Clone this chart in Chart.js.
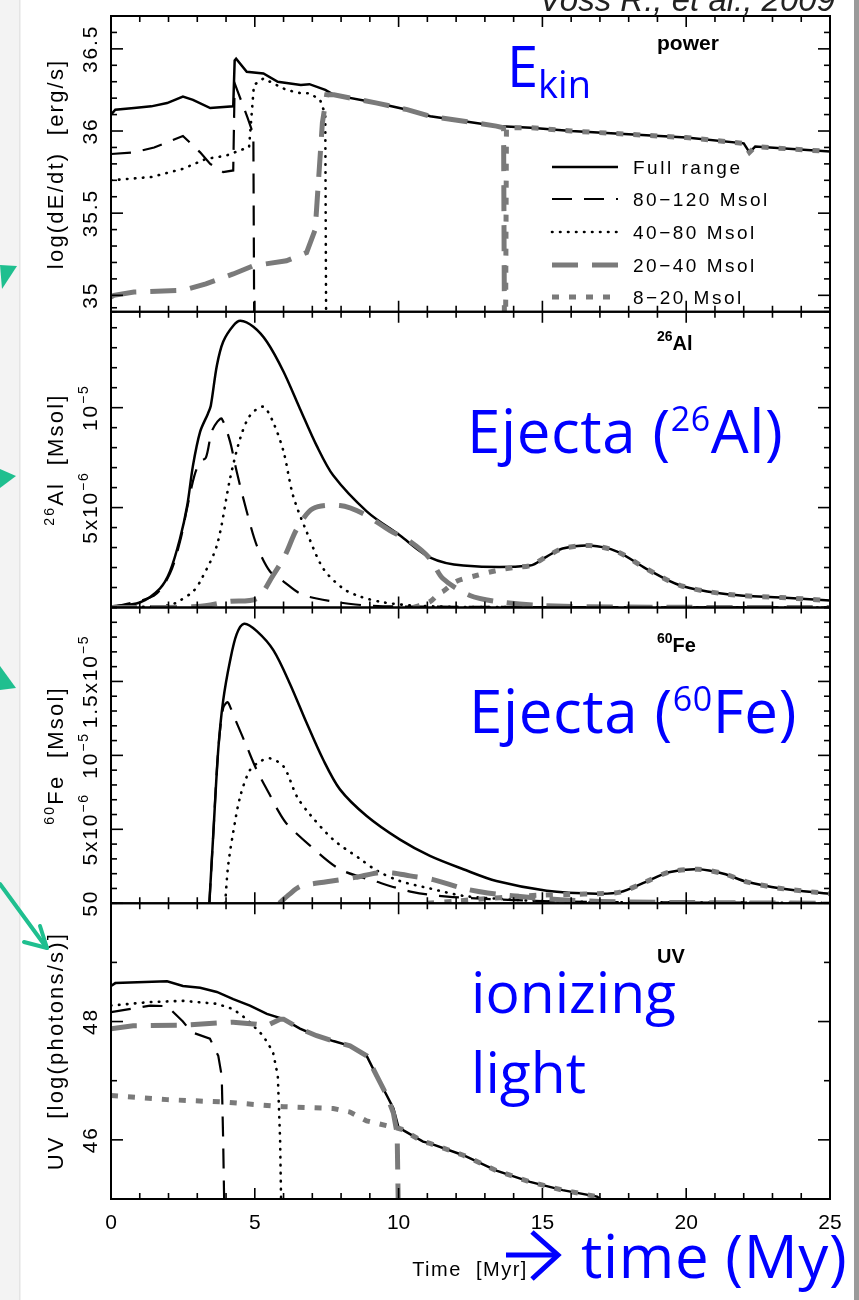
<!DOCTYPE html>
<html>
<head>
<meta charset="utf-8">
<title>Stellar group output vs time</title>
<script src="https://cdn.jsdelivr.net/npm/chart.js"></script>
<style>
  body { margin: 0; background: #fff; }
  canvas { display: block; }
</style>
</head>
<body>
<canvas id="myChart" width="859" height="1300"></canvas>
<script>
// x axis: Time [Myr]
const timeTicks = [0, 5, 10, 15, 20, 25];
const seriesNames = ['Full range', '80\u2212120 Msol', '40\u221280 Msol', '20\u221240 Msol', '8\u221220 Msol'];

// panel 1: power, log(dE/dt) [erg/s]   points are [time, value]
const powerFull = [[0,36.10],[0.15,36.13],[0.8,36.14],[1.4,36.15],[1.95,36.17],[2.5,36.21],[2.85,36.19],[3.45,36.14],[4.25,36.15],[4.3,36.43],[4.35,36.44],[4.72,36.36],[5.3,36.35],[5.8,36.30],[6.6,36.28],[6.9,36.285],[7.45,36.25],[7.75,36.22],[9.25,36.17],[10.3,36.13],[11.1,36.09],[13.4,36.03],[14.6,36.02],[16,36.0],[18.0,35.98],[20,35.96],[22.0,35.925],[22.2,35.87],[22.4,35.905],[25,35.875]];
const power80 = [[0,35.86],[0.8,35.87],[1.5,35.90],[2.5,35.97],[3.1,35.87],[3.45,35.80],[3.9,35.75],[4.25,35.76],[4.3,36.29],[4.45,36.22],[4.75,36.08],[4.95,35.98],[5.0,34.0]];
const power40 = [[0,35.70],[1.4,35.72],[2.5,35.77],[3.3,35.83],[4.0,35.85],[4.6,35.89],[4.8,35.90],[4.97,36.28],[5.3,36.32],[6.1,36.25],[6.6,36.23],[6.9,36.23],[7.27,36.19],[7.45,36.1],[7.5,34.0]];
const power20 = [[0,34.99],[0.1,35.0],[0.8,35.02],[2.5,35.03],[3.3,35.07],[4.25,35.13],[4.95,35.18],[6.1,35.21],[6.8,35.26],[7.1,35.40],[7.35,36.05],[7.5,36.22],[7.75,36.22],[9.25,36.17],[10.3,36.13],[11.1,36.09],[13.4,36.03],[13.65,36.02],[13.7,34.0]];
const power8 = [[13.7,34.0],[13.75,36.02],[14.6,36.02],[16,36.0],[18.0,35.98],[20,35.96],[22.0,35.925],[22.2,35.87],[22.4,35.905],[25,35.875]];

// panel 2: 26Al ejecta, in 1e-6 Msol
const alFull = [[0,0.05],[1.0,0.25],[1.7,0.95],[2.05,1.8],[2.4,3.45],[2.65,5.1],[2.85,7.1],[3.1,8.8],[3.37,9.7],[3.47,10.1],[3.68,12.1],[3.9,13.3],[4.25,14.1],[4.5,14.35],[4.95,14.05],[5.42,13.3],[6.0,11.8],[6.57,9.95],[7.15,8.1],[7.73,6.6],[8.9,4.8],[10.05,3.6],[11.1,2.5],[12.25,2.1],[14.57,2.1],[15.15,2.55],[15.7,2.95],[16.65,3.1],[17.6,2.8],[18.6,1.95],[19.8,1.1],[21.5,0.65],[23.3,0.5],[25,0.35]];
const al80 = [[0,0],[1.5,0.6],[2.05,1.7],[2.4,3.3],[2.65,5.0],[2.9,6.6],[3.1,7.3],[3.3,7.5],[3.5,8.8],[3.7,9.3],[3.85,9.45],[4.14,8.3],[4.37,6.8],[4.72,4.8],[5.07,3.1],[5.53,1.8],[6.0,1.3],[6.57,0.7],[7.15,0.45],[8.5,0.15],[10,0.05],[25,0]];
const al40 = [[0,0],[2.0,0.1],[2.4,0.35],[2.85,0.8],[3.1,1.3],[3.68,3.1],[4.14,6.45],[4.49,8.45],[4.83,9.6],[5.29,10.05],[5.63,9.3],[6.0,7.8],[6.33,5.6],[6.8,3.8],[7.38,1.95],[8.07,0.95],[8.66,0.55],[9.5,0.25],[10.5,0.1],[12,0.03],[25,0]];
const al20 = [[0,0],[3.0,0.05],[4.1,0.3],[5.07,0.45],[5.63,1.6],[6.05,2.6],[6.47,3.95],[7.02,4.95],[7.96,5.1],[8.76,4.7],[9.7,3.85],[10.4,3.3],[11.09,2.45],[11.54,1.45],[12.48,0.6],[13.42,0.3],[15,0.1],[18,0.02],[25,0]];
const al8 = [[10.5,0],[11.1,0.3],[11.4,0.7],[11.54,0.8],[12.0,1.3],[12.7,1.6],[13.4,1.85],[14.0,2.0],[14.57,2.1],[15.15,2.55],[15.7,2.95],[16.65,3.1],[17.6,2.8],[18.6,1.95],[19.8,1.1],[21.5,0.65],[23.3,0.5],[25,0.35]];

// panel 3: 60Fe ejecta, in 1e-6 Msol
const feFull = [[3.42,0],[3.56,4.8],[3.73,10.4],[3.9,13.7],[4.14,16.4],[4.37,18.2],[4.63,18.9],[5.07,18.4],[5.65,17.1],[6.22,14.85],[6.8,12.2],[7.38,9.7],[7.96,7.7],[8.89,5.9],[10.05,4.3],[11.09,3.2],[12.25,2.3],[13.4,1.5],[15.15,0.85],[16.9,0.65],[17.7,0.75],[18.6,1.45],[19.4,2.1],[20.4,2.3],[21.3,2.0],[22.1,1.45],[23.3,1.0],[25,0.64]];
const fe80 = [[3.42,0],[3.56,4.8],[3.73,10.4],[3.9,13.2],[4.05,13.6],[4.14,13.3],[4.37,12.2],[4.72,10.6],[5.07,9.0],[5.53,7.3],[5.77,6.4],[6.1,5.4],[6.92,3.9],[7.96,2.3],[9.25,1.45],[10.5,0.75],[11.7,0.45],[13,0.3],[15,0.15],[17,0.08],[25,0.02]];
const fe40 = [[3.97,0],[4.07,2.5],[4.25,4.8],[4.49,7.2],[4.83,9.0],[5.2,9.6],[5.53,9.8],[6.0,9.25],[6.47,7.2],[6.92,6.0],[7.73,4.3],[8.66,3.0],[9.25,2.2],[10.05,1.5],[11.09,1.0],[12.25,0.5],[13.5,0.3],[15,0.15],[17,0.08],[25,0.02]];
const fe20 = [[5.85,0],[6.2,0.6],[6.6,1.15],[7.5,1.45],[8.5,1.75],[9.25,2.05],[9.8,2.05],[10.4,1.85],[11.2,1.6],[12.25,1.0],[13.1,0.7],[14.5,0.4],[16,0.2],[18,0.08],[25,0]];
const fe8 = [[11,0],[12,0.15],[13,0.3],[14,0.45],[15,0.55],[16,0.6],[16.9,0.65],[17.7,0.75],[18.6,1.45],[19.4,2.1],[20.4,2.3],[21.3,2.0],[22.1,1.45],[23.3,1.0],[25,0.64]];

// panel 4: UV, log(photons/s)
const uvFull = [[0,48.6],[0.15,48.65],[1.95,48.68],[2.5,48.6],[3.1,48.57],[3.68,48.5],[4.25,48.38],[4.83,48.27],[5.42,48.13],[6.0,48.04],[6.57,47.88],[7.15,47.76],[7.73,47.67],[8.31,47.59],[8.89,47.42],[9.24,47.08],[9.59,46.75],[9.82,46.53],[9.99,46.22],[10.17,46.16],[10.85,45.97],[11.09,45.94],[12.25,45.74],[13.4,45.48],[14.57,45.29],[15.7,45.15],[16.9,45.04],[17.3,44.9]];
const uv80 = [[0,48.16],[1.36,48.27],[1.95,48.26],[2.5,48.0],[2.8,47.82],[3.44,47.71],[3.73,47.42],[3.85,47.08],[3.9,46.0],[3.95,44.5]];
const uv40 = [[0,48.27],[1.36,48.33],[2.5,48.35],[3.68,48.3],[4.25,48.21],[4.72,48.04],[5.29,47.76],[5.63,47.49],[5.8,47.08],[5.88,46.0],[5.93,44.5]];
const uv20 = [[0,47.88],[0.77,47.93],[2.5,47.94],[4.25,47.99],[4.95,47.96],[5.42,47.93],[5.88,48.04],[6.0,48.04],[6.57,47.88],[7.15,47.76],[7.73,47.67],[8.31,47.59],[8.89,47.42],[9.24,47.08],[9.59,46.75],[9.82,46.45],[9.95,46.1],[10.0,44.5]];
const uv8 = [[0,46.75],[1.95,46.68],[3.9,46.64],[6.0,46.56],[7.73,46.53],[8.31,46.47],[8.89,46.32],[9.59,46.24],[10.1,46.18],[10.17,46.16],[10.85,45.97],[11.09,45.94],[12.25,45.74],[13.4,45.48],[14.57,45.29],[15.7,45.15],[16.9,45.04],[17.3,44.9]];

// y tick values / labels
const powerTicks = [35, 35.5, 36, 36.5];
const powerLabels = ['35', '35.5', '36', '36.5'];
const alTicks = [5, 10];
const alLabels = ['5x10^{\u22126}', '10^{\u22125}'];
const feTicks = [5, 10, 15];
const feLabels = ['5x10^{\u22126}', '10^{\u22125}', '1.5x10^{\u22125}'];
const uvTicks = [46, 48, 50];
const uvLabels = ['46', '48', '50'];

const seriesStyles = [
  { color: '#000', width: 2.5, dash: [], cap: 'butt' },
  { color: '#000', width: 2.2, dash: [20, 12], cap: 'butt' },
  { color: '#000', width: 2.6, dash: [0.5, 7.5], cap: 'round' },
  { color: '#7a7a7a', width: 5, dash: [26, 14], cap: 'butt' },
  { color: '#7a7a7a', width: 5, dash: [7, 10], cap: 'butt' },
];

const panels = [
  { id: 'yPower', min: 34.9, max: 36.7, step: 0.1, ticks: powerTicks, labels: powerLabels, title: 'log(dE/dt)  [erg/s]', tag: 'power', tagY: 50, tagSize: 21 },
  { id: 'yAl', min: 0, max: 14.8, step: 1, ticks: alTicks, labels: alLabels, title: '^{26}Al  [Msol]', tag: '^{26}Al', tagY: 350, tagSize: 20 },
  { id: 'yFe', min: 0, max: 20, step: 1, ticks: feTicks, labels: feLabels, title: '^{60}Fe  [Msol]', tag: '^{60}Fe', tagY: 652, tagSize: 20 },
  { id: 'yUV', min: 45, max: 50, step: 1, ticks: uvTicks, labels: uvLabels, title: 'UV  [log(photons/s)]', tag: 'UV', tagY: 963, tagSize: 20 },
];

function makeSets(axisId, series, tension) {
  return series.map((pts, i) => ({
    label: seriesNames[i],
    xAxisID: 'x',
    yAxisID: axisId,
    data: pts.map(([x, y]) => ({ x, y })),
    borderColor: seriesStyles[i].color,
    borderWidth: seriesStyles[i].width,
    borderDash: seriesStyles[i].dash,
    borderCapStyle: seriesStyles[i].cap,
    pointRadius: 0,
    fill: false,
    tension: tension,
    order: 5 - i,
  }));
}

function parseRich(str) {
  const parts = [];
  const re = /\^\{([^}]*)\}|_\{([^}]*)\}|([^^_]+)/g;
  let m;
  while ((m = re.exec(str))) {
    if (m[1] !== undefined) parts.push({ t: m[1], k: 'sup' });
    else if (m[2] !== undefined) parts.push({ t: m[2], k: 'sub' });
    else parts.push({ t: m[3], k: 'n' });
  }
  return parts;
}

function drawRich(ctx, str, x, y, o) {
  const parts = parseRich(str);
  const fontFor = k => (o.weight || '') + ' ' + (k === 'n' ? o.size : Math.round(o.size * (o.small || 0.65))) + 'px ' + o.family;
  ctx.letterSpacing = (o.spacing || 0) + 'px';
  ctx.textAlign = 'left';
  let total = 0;
  const widths = parts.map(p => { ctx.font = fontFor(p.k); const w = ctx.measureText(p.t).width; total += w; return w; });
  let cx = o.align === 'center' ? x - total / 2 : o.align === 'right' ? x - total : x;
  parts.forEach((p, i) => {
    ctx.font = fontFor(p.k);
    const dy = p.k === 'sup' ? -(o.rise || 0.42) * o.size : p.k === 'sub' ? (o.drop || 0.2) * o.size : 0;
    ctx.fillText(p.t, cx, y + dy);
    cx += widths[i];
  });
  ctx.letterSpacing = '0px';
}

function drawRotated(ctx, str, x, y, o) {
  ctx.save();
  ctx.translate(x, y);
  ctx.rotate(-Math.PI / 2);
  drawRich(ctx, str, 0, 0, Object.assign({}, o, { align: 'center' }));
  ctx.restore();
}

function seg(ctx, x1, y1, x2, y2) {
  ctx.beginPath(); ctx.moveTo(x1, y1); ctx.lineTo(x2, y2); ctx.stroke();
}

const SANS = '"Liberation Sans", Arial, sans-serif';
const BLUE_FONT = '"Open Sans", sans-serif';

const backdrop = {
  id: 'backdrop',
  beforeDraw(chart) {
    const ctx = chart.ctx;
    ctx.save();
    ctx.fillStyle = '#fff';
    ctx.fillRect(0, 0, chart.width, chart.height);
    ctx.fillStyle = '#f3f3f3';
    ctx.fillRect(0, 0, 19, chart.height);
    ctx.fillStyle = '#e4e4e4';
    ctx.fillRect(19, 0, 1.5, chart.height);
    ctx.fillStyle = '#9a9a9a';
    ctx.fillRect(854, 0, 5, chart.height);
    ctx.restore();
  }
};

const frames = {
  id: 'frames',
  afterDraw(chart) {
    const ctx = chart.ctx;
    const xs = chart.scales.x;
    const L = xs.left, R = xs.right;
    ctx.save();
    ctx.fillStyle = '#000';
    ctx.strokeStyle = '#000';
    ctx.setLineDash([]);
    panels.forEach(p => {
      const s = chart.scales[p.id];
      const T = s.top, B = s.bottom;
      ctx.lineWidth = 1.6;
      for (let t = 0; t <= 25; t++) {
        const px = xs.getPixelForValue(t);
        const len = t % 5 === 0 ? 11 : 6;
        seg(ctx, px, B, px, B - len);
        seg(ctx, px, T, px, T + len);
      }
      const n = Math.round((p.max - p.min) / p.step);
      for (let i = 0; i <= n; i++) {
        const v = p.min + i * p.step;
        const py = s.getPixelForValue(v);
        const major = p.ticks.some(tv => Math.abs(tv - v) < 1e-6);
        const len = major ? 12 : 6;
        seg(ctx, L, py, L + len, py);
        seg(ctx, R, py, R - len, py);
      }
      ctx.lineWidth = 2;
      ctx.strokeRect(L, T, R - L, B - T);
      // tick labels, rotated
      p.ticks.forEach((tv, i) => {
        drawRotated(ctx, p.labels[i], 97, s.getPixelForValue(tv), { size: 21, family: SANS, spacing: 1.8 });
      });
      // axis title
      drawRotated(ctx, p.title, 63, (T + B) / 2, { size: 22, family: SANS, spacing: 2.2 });
      // panel tag
      drawRich(ctx, p.tag, 657, p.tagY, { size: p.tagSize, family: SANS, weight: 'bold', small: 0.72, rise: 0.45 });
    });
    // time labels
    const B = chart.scales.yUV.bottom;
    timeTicks.forEach(t => {
      drawRich(ctx, String(t), xs.getPixelForValue(t), B + 30, { size: 21, family: SANS, align: 'center' });
    });
    drawRich(ctx, 'Time  [Myr]', 470, B + 77, { size: 20, family: SANS, align: 'center', spacing: 1.5 });
    ctx.restore();
  }
};

const legendBox = {
  id: 'legendBox',
  afterDraw(chart) {
    const ctx = chart.ctx;
    const rows = [167, 199, 232, 265, 297];
    ctx.save();
    chart.data.datasets.slice(0, 5).forEach((ds, i) => {
      ctx.strokeStyle = ds.borderColor;
      ctx.lineWidth = ds.borderWidth;
      ctx.setLineDash(ds.borderDash);
      ctx.lineCap = ds.borderCapStyle;
      seg(ctx, 552, rows[i], 618, rows[i]);
      ctx.setLineDash([]);
      ctx.lineCap = 'butt';
      ctx.fillStyle = '#000';
      drawRich(ctx, ds.label, 633, rows[i] + 7, { size: 19, family: SANS, spacing: 2.5 });
    });
    ctx.restore();
  }
};

const notes = {
  id: 'notes',
  afterDraw(chart) {
    const ctx = chart.ctx;
    ctx.save();
    // citation, cut at the top edge
    ctx.fillStyle = '#222';
    drawRich(ctx, 'Voss R., et al., 2009', 835, 11, { size: 33, family: SANS, weight: 'italic', align: 'right' });
    // blue annotations
    ctx.fillStyle = '#0000ff';
    drawRich(ctx, 'E_{kin}', 507, 87, { size: 56, family: BLUE_FONT, small: 0.68, drop: 0.2 });
    drawRich(ctx, 'Ejecta (^{26}Al)', 467, 453, { size: 60, family: BLUE_FONT, small: 0.56, rise: 0.36, spacing: 0.6 });
    drawRich(ctx, 'Ejecta (^{60}Fe)', 469, 733, { size: 60, family: BLUE_FONT, small: 0.56, rise: 0.36, spacing: 0.6 });
    drawRich(ctx, 'ionizing', 471, 1013, { size: 57, family: BLUE_FONT });
    drawRich(ctx, 'light', 471, 1093, { size: 57, family: BLUE_FONT });
    drawRich(ctx, 'time (My)', 581, 1278, { size: 60, family: BLUE_FONT, spacing: 0.6 });
    ctx.strokeStyle = '#0000ff';
    ctx.lineWidth = 5;
    ctx.lineJoin = 'miter';
    seg(ctx, 506, 1255, 556, 1255);
    ctx.beginPath(); ctx.moveTo(532, 1232); ctx.lineTo(558, 1255); ctx.lineTo(532, 1279); ctx.stroke();
    // teal pointers on the left edge
    const teal = '#1fbf8f';
    ctx.fillStyle = teal;
    [[[0, 265], [17, 266], [2, 289]], [[0, 469], [16, 476], [0, 488]], [[0, 666], [16, 688], [0, 690]]].forEach(tri => {
      ctx.beginPath(); ctx.moveTo(...tri[0]); ctx.lineTo(...tri[1]); ctx.lineTo(...tri[2]); ctx.closePath(); ctx.fill();
    });
    ctx.strokeStyle = teal;
    ctx.lineWidth = 4;
    ctx.lineCap = 'round';
    seg(ctx, 0, 884, 46, 947);
    seg(ctx, 47, 948, 24, 942);
    seg(ctx, 47, 948, 40, 926);
    ctx.restore();
  }
};

const yScale = (p, w) => ({ type: 'linear', display: false, position: 'left', stack: 'panels', stackWeight: 1, weight: w, min: p.min, max: p.max });

const config = {
  type: 'line',
  data: {
    datasets: [
      ...makeSets('yPower', [powerFull, power80, power40, power20, power8], 0),
      ...makeSets('yAl', [alFull, al80, al40, al20, al8], 0.3),
      ...makeSets('yFe', [feFull, fe80, fe40, fe20, fe8], 0.3),
      ...makeSets('yUV', [uvFull, uv80, uv40, uv20, uv8], 0),
    ]
  },
  options: {
    responsive: false,
    animation: false,
    devicePixelRatio: 1,
    events: [],
    layout: { padding: { left: 111, right: 29, top: 16, bottom: 101 } },
    plugins: { legend: { display: false }, tooltip: { enabled: false } },
    scales: {
      x: { type: 'linear', display: false, min: 0, max: 25 },
      yPower: yScale(panels[0], 4),
      yAl: yScale(panels[1], 3),
      yFe: yScale(panels[2], 2),
      yUV: yScale(panels[3], 1),
    }
  },
  plugins: [backdrop, frames, legendBox, notes]
};

const myChart = new Chart(document.getElementById('myChart'), config);
</script>
</body>
</html>
